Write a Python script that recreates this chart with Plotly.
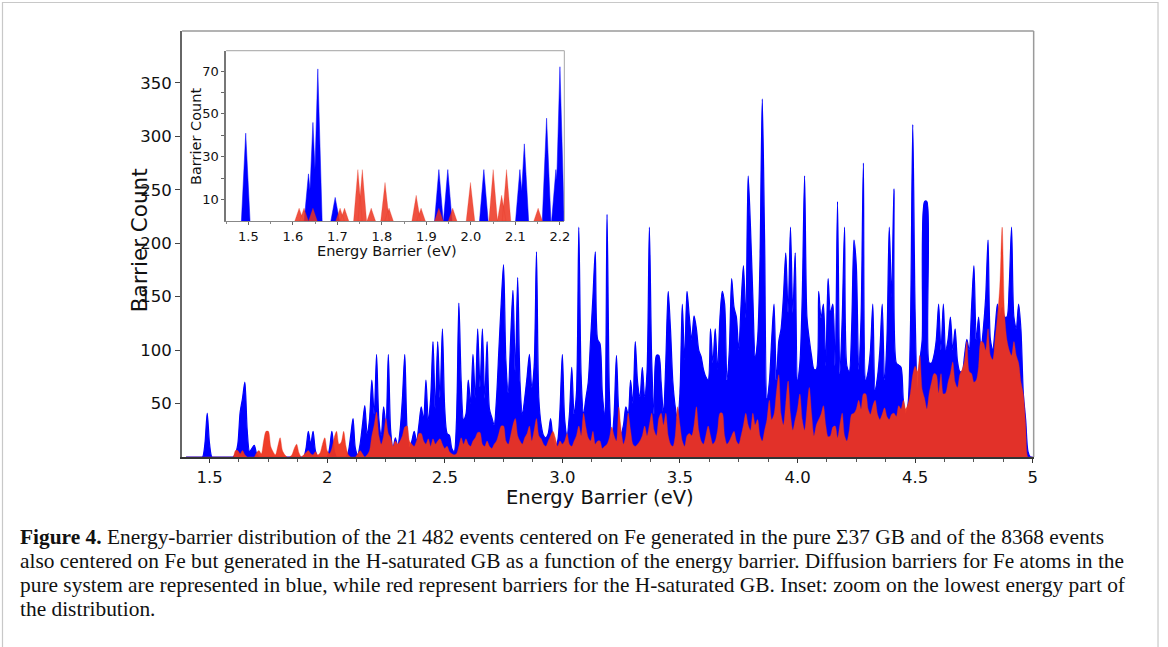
import numpy as np
import plotly.graph_objects as go

W, H = 1168, 647

# ---------------- main histogram (0.01 eV grid starting at 1.40 eV) ----------------
energy_start = 1.40
energy_step = 0.01

blue_counts = [
    0, 0, 0, 0, 0, 0, 0, 0, 12, 41,            # 1.40
    12, 0, 0, 0, 0, 0, 0, 0, 0, 0,             # 1.50
    0, 3, 12, 42, 55, 70, 25, 5, 8, 11,        # 1.60
    3, 0, 0, 0, 0, 0, 0, 0, 0, 0,              # 1.70
    0, 0, 0, 0, 0, 0, 0, 0, 0, 0,              # 1.80
    0, 8, 24, 12, 24, 6, 0, 0, 0, 0,           # 1.90
    0, 8, 24, 6, 0, 0, 0, 0, 0, 5,             # 2.00
    20, 36, 8, 2, 12, 30, 48, 22, 35, 72,      # 2.10
    40, 96, 35, 20, 47, 30, 96, 25, 8, 18,     # 2.20
    10, 25, 55, 96, 25, 8, 15, 24, 15, 30,     # 2.30
    47, 35, 72, 35, 55, 108, 45, 108, 55, 120, # 2.40
    45, 22, 20, 8, 5, 35, 144, 70, 35, 40,     # 2.50
    72, 50, 96, 55, 120, 65, 120, 55, 108, 45, # 2.60
    37, 30, 55, 100, 144, 180, 90, 60, 110, 156,  # 2.70
    80, 168, 70, 40, 55, 75, 96, 65, 85, 192,  # 2.80
    55, 30, 20, 18, 22, 36, 18, 10, 15, 45,    # 2.90
    96, 35, 20, 40, 84, 40, 60, 215, 75, 40,   # 3.00
    55, 70, 110, 150, 192, 110, 106, 60, 40, 227,  # 3.10
    60, 16, 40, 95, 40, 22, 30, 47, 40, 72,    # 3.20
    50, 108, 70, 56, 84, 56, 80, 215, 90, 40,  # 3.30
    95, 95, 70, 40, 90, 155, 119, 70, 47, 34,  # 3.40
    60, 143, 90, 155, 131, 110, 132, 120, 100, 94,  # 3.50
    82, 75, 72, 120, 88, 120, 82, 130, 155, 143,    # 3.60
    72, 100, 167, 140, 131, 100, 143, 179, 130, 263,  # 3.70
    215, 150, 94, 110, 180, 335, 203, 55, 70, 110,    # 3.80
    143, 72, 108, 120, 150, 191, 135, 215, 135, 191,  # 3.90
    72, 88, 150, 263, 131, 110, 94, 82, 82, 155,      # 4.00
    130, 143, 85, 167, 135, 143, 85, 239, 78, 130,    # 4.10
    215, 85, 80, 120, 203, 179, 82, 130, 275, 72,     # 4.20
    80, 100, 143, 63, 75, 100, 143, 72, 110, 215,     # 4.30
    150, 251, 88, 86, 84, 53, 40, 50, 120, 311,       # 4.40
    135, 60, 90, 110, 239, 239, 88, 88, 95, 110,      # 4.50
    143, 100, 143, 100, 110, 131, 100, 120, 90, 80,   # 4.60
    80, 95, 110, 100, 140, 179, 110, 131, 100, 120,   # 4.70
    150, 203, 110, 100, 120, 143, 130, 140, 131, 131, # 4.80
    160, 215, 131, 120, 143, 119, 60, 35, 5, 0,       # 4.90
    0,                                                # 5.00
]

red_counts = [
    0, 0, 0, 0, 0, 0, 0, 0, 0, 0,              # 1.40
    0, 0, 0, 0, 0, 0, 0, 0, 0, 0,              # 1.50
    0, 6, 6, 3, 6, 2, 0, 0, 0, 0,              # 1.60
    4, 6, 3, 15, 24, 24, 10, 5, 2, 10,         # 1.70
    18, 6, 2, 0, 0, 2, 8, 12, 4, 0,            # 1.80
    2, 4, 6, 3, 2, 5, 2, 4, 12, 18,            # 1.90
    6, 3, 8, 18, 24, 12, 14, 24, 10, 2,        # 2.00
    0, 0, 0, 3, 6, 3, 0, 2, 6, 20,             # 2.10
    30, 42, 20, 12, 20, 36, 22, 18, 10, 15,    # 2.20
    12, 15, 20, 28, 29, 15, 12, 10, 15, 22,    # 2.30
    22, 15, 12, 17, 10, 17, 12, 15, 17, 12,    # 2.40
    8, 10, 5, 3, 2, 3, 10, 18, 12, 17,         # 2.50
    12, 10, 15, 18, 23, 23, 12, 10, 15, 10,    # 2.60
    8, 12, 15, 22, 29, 29, 15, 12, 20, 30,     # 2.70
    36, 20, 15, 12, 18, 22, 29, 15, 25, 36,    # 2.80
    20, 17, 12, 10, 15, 20, 24, 18, 10, 15,    # 2.90
    12, 15, 22, 12, 10, 15, 20, 29, 20, 41,    # 3.00
    28, 18, 15, 24, 12, 15, 15, 8, 10, 12,     # 3.10
    18, 28, 20, 15, 47, 25, 12, 20, 41, 25,    # 3.20
    12, 10, 12, 15, 20, 29, 20, 30, 41, 25,    # 3.30
    20, 36, 41, 30, 41, 20, 12, 10, 20, 47,    # 3.40
    30, 15, 10, 20, 22, 20, 30, 47, 25, 15,    # 3.50
    12, 20, 29, 20, 12, 15, 25, 41, 41, 20,    # 3.60
    12, 15, 20, 24, 15, 12, 20, 30, 41, 30,    # 3.70
    25, 41, 30, 35, 20, 15, 25, 35, 53, 35,    # 3.80
    40, 60, 77, 40, 30, 50, 71, 40, 25, 35,    # 3.90
    45, 59, 35, 25, 45, 65, 40, 20, 30, 35,    # 4.00
    40, 48, 30, 19, 20, 28, 29, 18, 30, 41,    # 4.10
    20, 15, 25, 40, 41, 45, 53, 45, 59, 59,    # 4.20
    45, 40, 48, 53, 40, 35, 40, 46, 38, 35,    # 4.30
    40, 41, 38, 48, 45, 53, 45, 50, 60, 77,    # 4.40
    85, 80, 95, 63, 55, 45, 60, 70, 78, 77,    # 4.50
    60, 78, 59, 60, 70, 78, 89, 70, 65, 77,    # 4.60
    82, 90, 108, 80, 78, 70, 72, 85, 108, 107, # 4.70
    100, 120, 95, 91, 110, 131, 160, 215, 135, 110,  # 4.80
    100, 95, 108, 95, 88, 70, 59, 30, 0, 0,    # 4.90
    0,                                         # 5.00
]

# ---------------- inset: individual low-energy peaks ----------------
inset_blue_energy = [1.494, 1.635, 1.645, 1.656, 1.695, 1.928, 1.948, 2.029,
                     2.110, 2.120, 2.170, 2.191, 2.200]
inset_blue_count = [41, 22, 46, 71, 11, 24, 24, 24, 24, 36, 48, 24, 72]
inset_red_energy = [1.614, 1.625, 1.645, 1.706, 1.716, 1.746, 1.756, 1.776,
                    1.807, 1.816, 1.877, 1.888, 1.928, 1.959, 1.999, 2.050,
                    2.069, 2.080, 2.151]
inset_red_count = [6, 6, 6, 6, 6, 24, 24, 6, 18, 6, 12, 6, 6, 6, 18, 24, 12, 24, 6]

main_ticks = [1.5, 2, 2.5, 3, 3.5, 4, 4.5, 5]
main_ticktext = ["1.5", "2", "2.5", "3.0", "3.5", "4.0", "4.5", "5"]
main_yticks = [50, 100, 150, 200, 250, 300, 350]
inset_xticks = [1.5, 1.6, 1.7, 1.8, 1.9, 2.0, 2.1, 2.2]
inset_xticktext = ["1.5", "1.6", "1.7", "1.8", "1.9", "2.0", "2.1", "2.2"]
inset_yticks = [10, 20, 30, 40, 50, 60, 70]
inset_yticktext = ["10", "", "30", "", "50", "", "70"]

BLUE = "rgb(0,0,255)"
RED = "rgba(238,52,30,0.95)"
PEAK_HALF_WIDTH = 0.0097

energy = energy_start + energy_step * np.arange(len(blue_counts))


def peak_polygons(centers, heights, hw):
    xs, ys = [], []
    for c, h in zip(centers, heights):
        xs += [c - hw, c, c + hw, c - hw, None]
        ys += [0, h, 0, 0, None]
    return xs, ys


fig = go.Figure()
fig.add_trace(go.Scatter(x=energy, y=blue_counts, mode="lines",
                         line=dict(color=BLUE, width=1.2, shape="spline", smoothing=0.8),
                         fill="tozeroy", fillcolor=BLUE, xaxis="x", yaxis="y",
                         hoverinfo="skip"))
fig.add_trace(go.Scatter(x=energy, y=red_counts, mode="lines",
                         line=dict(color="rgba(232,50,30,0.6)", width=0.6, shape="spline", smoothing=0.8),
                         fill="tozeroy", fillcolor=RED, xaxis="x", yaxis="y",
                         hoverinfo="skip"))

bx, by = peak_polygons(inset_blue_energy, inset_blue_count, PEAK_HALF_WIDTH)
rx, ry = peak_polygons(inset_red_energy, inset_red_count, PEAK_HALF_WIDTH)
fig.add_trace(go.Scatter(x=bx, y=by, mode="lines", line=dict(color=BLUE, width=0.5),
                         fill="toself", fillcolor=BLUE, xaxis="x2", yaxis="y2",
                         hoverinfo="skip"))
fig.add_trace(go.Scatter(x=rx, y=ry, mode="lines", line=dict(color="rgba(232,50,30,0.5)", width=0.5),
                         fill="toself", fillcolor="rgba(236,50,30,0.85)", xaxis="x2", yaxis="y2",
                         hoverinfo="skip"))


def px(x):
    return x / W


def py(y):
    return (H - y) / H


MX0, MX1, MY0, MY1 = 183, 1039, 31, 457
IX0, IX1, IY0, IY1 = 227.3, 567.3, 50.7, 221

tickfont = dict(family="DejaVu Sans", size=16.5, color="#111")
inset_tickfont = dict(family="DejaVu Sans", size=13, color="#111")

fig.update_layout(
    width=W, height=H,
    margin=dict(l=0, r=0, t=0, b=0),
    paper_bgcolor="white", plot_bgcolor="white",
    showlegend=False,
    xaxis=dict(domain=[px(MX0), px(MX1)], range=[1.383, 5.004], anchor="y",
               tickmode="array", tickvals=main_ticks, ticktext=main_ticktext,
               ticks="outside", ticklen=4, tickwidth=1.2, tickcolor="#333",
               tickfont=tickfont, showgrid=False, zeroline=False,
               showline=True, linecolor="#333", linewidth=1.5,
               minor=dict(tickmode="linear", tick0=1.5, dtick=0.125, ticklen=3,
                          ticks="outside", tickcolor="#555", showgrid=False)),
    yaxis=dict(domain=[py(MY1), py(MY0)], range=[0, 398.6], anchor="x",
               tickmode="array", tickvals=main_yticks,
               ticks="outside", ticklen=5, tickwidth=1.2, tickcolor="#444",
               tickfont=tickfont, showgrid=False, zeroline=False,
               showline=True, linecolor="#666", linewidth=2),
    xaxis2=dict(domain=[px(IX0), px(IX1)], range=[1.45, 2.21], anchor="y2",
                tickmode="array", tickvals=inset_xticks, ticktext=inset_xticktext,
                ticks="outside", ticklen=3, tickcolor="#666",
                tickfont=inset_tickfont, showgrid=False, zeroline=False,
                showline=True, linecolor="#888", linewidth=1.2,
                minor=dict(tickmode="linear", tick0=1.5, dtick=0.05, ticklen=2,
                           ticks="outside", tickcolor="#888", showgrid=False)),
    yaxis2=dict(domain=[py(IY1), py(IY0)], range=[0, 79.5], anchor="x2",
                tickmode="array", tickvals=inset_yticks, ticktext=inset_yticktext,
                ticks="outside", ticklen=3, tickcolor="#666",
                tickfont=inset_tickfont, showgrid=False, zeroline=False,
                showline=True, linecolor="#777", linewidth=1.5),
)

shapes = [
    dict(type="rect", xref="paper", yref="paper", x0=px(2.5), x1=px(1164), y0=-0.1, y1=py(2.5),
         line=dict(color="#c8c8c8", width=1.2), fillcolor="rgba(0,0,0,0)", layer="below"),
    dict(type="line", xref="paper", yref="paper", x0=px(MX0), x1=px(MX1), y0=py(MY0), y1=py(MY0),
         line=dict(color="#9a9a9a", width=1.5)),
    dict(type="line", xref="paper", yref="paper", x0=px(MX1), x1=px(MX1), y0=py(MY0), y1=py(MY1),
         line=dict(color="#9a9a9a", width=1.5)),
    dict(type="line", xref="paper", yref="paper", x0=px(IX0), x1=px(IX1), y0=py(IY0), y1=py(IY0),
         line=dict(color="#b5b5b5", width=1.2)),
    dict(type="line", xref="paper", yref="paper", x0=px(IX1), x1=px(IX1), y0=py(IY0), y1=py(IY1),
         line=dict(color="#b5b5b5", width=1.2)),
]
fig.update_layout(shapes=shapes)

ann = [
    dict(text="Barrier Count", x=px(140), y=py(240), textangle=-90,
         font=dict(family="DejaVu Sans", size=21.5, color="#111")),
    dict(text="Energy Barrier (eV)", x=px(603), y=py(497),
         font=dict(family="DejaVu Sans", size=19.5, color="#111")),
    dict(text="Barrier Count", x=px(197), y=py(136), textangle=-90,
         font=dict(family="DejaVu Sans", size=14.5, color="#111")),
    dict(text="Energy Barrier (eV)", x=px(389), y=py(251),
         font=dict(family="DejaVu Sans", size=14.5, color="#111")),
]
for a in ann:
    a.update(xref="paper", yref="paper", showarrow=False, xanchor="center", yanchor="middle")

caption_lines = [
    "<b>Figure 4.</b> Energy-barrier distribution of the 21\u2009482 events centered on Fe generated in the pure \u03a337 GB and of the 8368 events",
    "also centered on Fe but generated in the H-saturated GB as a function of the energy barrier. Diffusion barriers for Fe atoms in the",
    "pure system are represented in blue, while red represent barriers for the H-saturated GB. Inset: zoom on the lowest energy part of",
    "the distribution.",
]
caption_y = [537, 561, 585, 609]
for t, yy in zip(caption_lines, caption_y):
    ann.append(dict(text=t, x=px(18), y=py(yy), xref="paper", yref="paper", showarrow=False,
                    xanchor="left", yanchor="middle",
                    font=dict(family="Liberation Serif", size=21.4, color="#111")))
fig.update_layout(annotations=ann)

fig.write_html("out.html", config={"displayModeBar": False},
               post_script="document.body.style.margin='0';")
